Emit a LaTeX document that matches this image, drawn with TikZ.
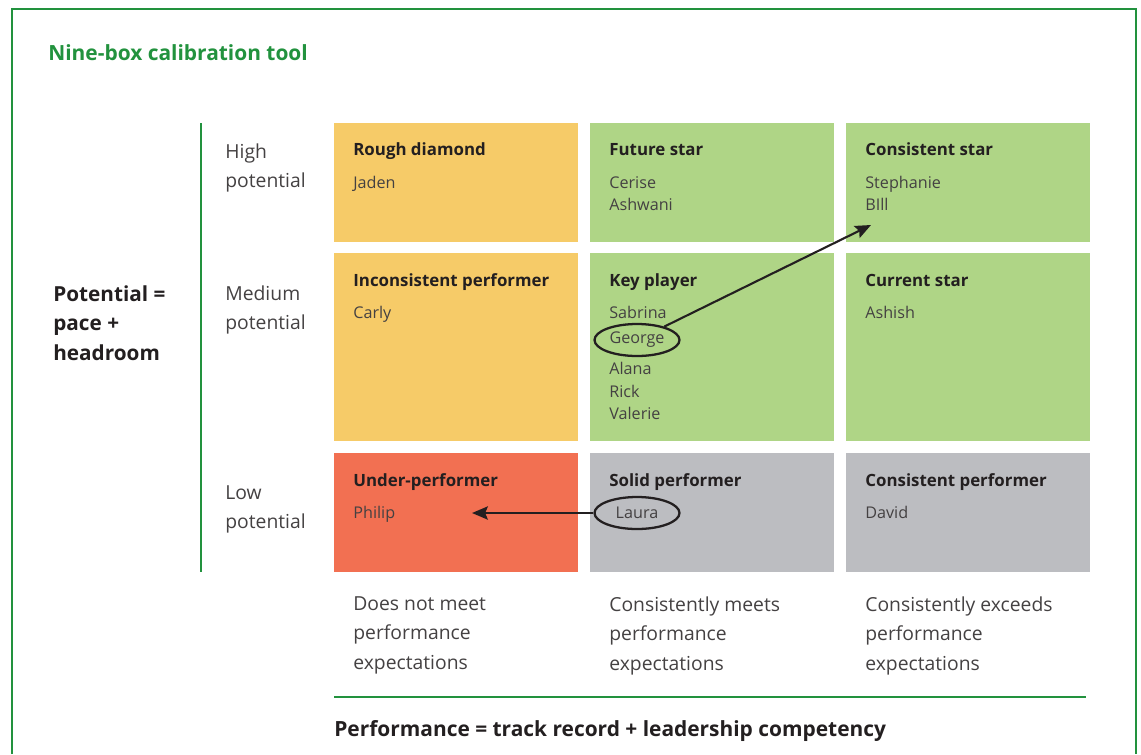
\documentclass[tikz,border=0pt]{standalone}
\usepackage{fontspec}
\setmainfont{Open Sans}
\usetikzlibrary{positioning,arrows.meta,shapes.geometric}
\definecolor{framegreen}{RGB}{34,146,62}
\definecolor{amber}{RGB}{246,203,104}
\definecolor{leaf}{RGB}{175,213,134}
\definecolor{coral}{RGB}{242,112,82}
\definecolor{stone}{RGB}{188,189,193}
\definecolor{ink}{RGB}{35,31,32}
\tikzset{%
  cell/.style={rectangle, anchor=north west, inner sep=0pt, minimum width=4.88cm},% one of the nine boxes
  short/.style={cell, minimum height=2.38cm},
  tall/.style={cell, minimum height=3.76cm},
  boxtitle/.style={anchor=base west, inner sep=0pt, text=ink, font=\fontsize{9.6}{10}\selectfont\bfseries},
  person/.style={anchor=base west, inner sep=0pt, text=ink!85, font=\fontsize{9.2}{12.8}\selectfont, align=left},
  circled/.style={draw=ink, line width=1.3pt, ellipse, inner sep=0pt, minimum width=1.7cm, minimum height=0.64cm,
    text=ink!85, font=\fontsize{9.2}{10}\selectfont},
  axis/.style={anchor=north west, inner sep=0pt, text=ink!85, font=\fontsize{11}{16.8}\selectfont, align=left},
  move/.style={draw=ink, line width=1.2pt, -{Stealth[length=9pt,width=7.5pt,inset=1.5pt]}}% move to another box
}
\begin{document}
\begin{tikzpicture}[x=0.02cm, y=-0.02cm]
\useasboundingbox (0,0) rectangle (1141,754);

% frame and title
\draw[framegreen, line width=1.2pt] (12,754) -- (12,9) -- (1136,9) -- (1136,754);
\node[anchor=base west, inner sep=0pt, text=framegreen, font=\fontsize{11.9}{12}\selectfont\bfseries] (title) at (48,60) {Nine-box calibration tool};

% the nine boxes
\node[short, fill=amber] (rough) at (334,123) {};
\node[short, fill=leaf] (future) at (590,123) {};
\node[short, fill=leaf] (cstar) at (846,123) {};
\node[tall, fill=amber] (incons) at (334,253) {};
\node[tall, fill=leaf] (key) at (590,253) {};
\node[tall, fill=leaf] (current) at (846,253) {};
\node[short, fill=coral] (under) at (334,453) {};
\node[short, fill=stone] (solid) at (590,453) {};
\node[short, fill=stone] (cperf) at (846,453) {};

% box titles
\node[boxtitle] (t1) at (353,155) {Rough diamond};
\node[boxtitle] (t2) at (609,155) {Future star};
\node[boxtitle] (t3) at (865,155) {Consistent star};
\node[boxtitle] (t4) at (353,286) {Inconsistent performer};
\node[boxtitle] (t5) at (609,286) {Key player};
\node[boxtitle] (t6) at (865,286) {Current star};
\node[boxtitle] (t7) at (353,486) {Under-performer};
\node[boxtitle] (t8) at (609,486) {Solid performer};
\node[boxtitle] (t9) at (865,486) {Consistent performer};

% names
\node[person] (jaden) at (353,188) {Jaden};
\node[person] (cerise) at (609,188) {Cerise};
\node[person] (ashwani) at (609,210) {Ashwani};
\node[person] (stephanie) at (865,188) {Stephanie};
\node[person] (bill) at (865,210) {BIll};
\node[person] (carly) at (353,318) {Carly};
\node[person] (sabrina) at (609,318) {Sabrina};
\node[circled] (george) at (637,340) {George};
\node[person] (alana) at (609,374) {Alana};
\node[person] (rick) at (609,397) {Rick};
\node[person] (valerie) at (609,419) {Valerie};
\node[person] (ashish) at (865,318) {Ashish};
\node[person] (philip) at (353,518) {Philip};
\node[circled] (laura) at (637,513) {Laura};
\node[person] (david) at (865,518) {David};

% moves
\coordinate (up) at (871,225);
\coordinate (down) at (472,513);
\draw[move] (george) -- (up);
\draw[move] (laura) -- (down);

% potential axis
\draw[framegreen, line width=1.2pt] (201,123) -- (201,572);
\node[axis] (high) at (225,143) {High\\potential};
\node[axis] (medium) at (225,285) {Medium\\potential};
\node[axis] (low) at (225,485) {Low\\potential};
\node[anchor=north west, inner sep=0pt, text=ink, align=left, font=\fontsize{11.8}{16.8}\selectfont\bfseries] (potential) at (53,285) {Potential =\\pace +\\headroom};

% performance axis
\node[axis] (miss) at (353,596) {Does not meet\\performance\\expectations};
\node[axis] (meets) at (609,596) {Consistently meets\\performance\\expectations};
\node[axis] (exceeds) at (865,596) {Consistently exceeds\\performance\\expectations};
\draw[framegreen, line width=1.3pt] (334,697) -- (1086,697);
\node[anchor=base west, inner sep=0pt, text=ink, font=\fontsize{11.9}{12}\selectfont\bfseries] (performance) at (334,736) {Performance = track record + leadership competency};

\end{tikzpicture}
\end{document}
